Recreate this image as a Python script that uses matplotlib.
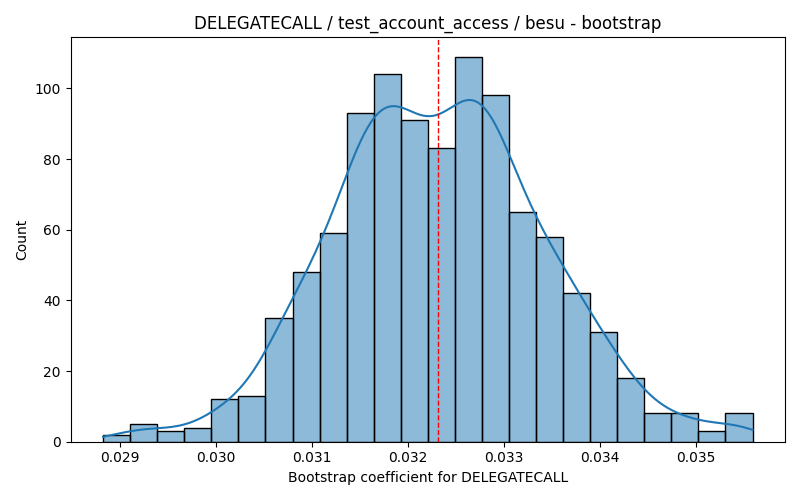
#!/usr/bin/env python3
"""Bootstrap histogram with KDE for DELEGATECALL coefficient."""

import numpy as np
import matplotlib
matplotlib.use("Agg")
import matplotlib.pyplot as plt

# bin edges (24 equal bins)
bin_lo = 0.028821
bin_hi = 0.035586
counts = [2, 5, 3, 4, 12, 13, 35, 48, 59, 93, 104, 91,
          83, 109, 98, 65, 58, 42, 31, 18, 8, 8, 3, 8]
point_estimate = 0.03231

title = "DELEGATECALL / test_account_access / besu - bootstrap"
xlabel = "Bootstrap coefficient for DELEGATECALL"


def weighted_kde(centers, weights, grid):
    w = weights / weights.sum()
    mean = np.sum(w * centers)
    std = np.sqrt(np.sum(w * (centers - mean) ** 2))
    bw = std * weights.sum() ** (-1 / 5)  # scott on the sample size
    z = (grid[:, None] - centers[None, :]) / bw
    return (np.exp(-0.5 * z ** 2) * w[None, :]).sum(axis=1) / (bw * np.sqrt(2 * np.pi))


def main():
    counts_arr = np.array(counts, dtype=float)
    edges = np.linspace(bin_lo, bin_hi, len(counts) + 1)
    centers = (edges[:-1] + edges[1:]) / 2
    width = edges[1] - edges[0]

    fig, ax = plt.subplots(figsize=(8, 5), dpi=100)
    ax.bar(edges[:-1], counts_arr, width=width, align="edge",
           facecolor=(*matplotlib.colors.to_rgb("C0"), 0.5),
           edgecolor="black", linewidth=1.0)

    grid = np.linspace(edges[0], edges[-1], 200)
    dens = weighted_kde(centers, counts_arr, grid)
    ax.plot(grid, dens * counts_arr.sum() * width, color="C0", linewidth=1.5)

    ax.axvline(point_estimate, color="red", linestyle="--", linewidth=1)

    ax.set_title(title)
    ax.set_xlabel(xlabel)
    ax.set_ylabel("Count")

    fig.tight_layout()
    fig.savefig("out.png", dpi=100)
    plt.close(fig)


if __name__ == "__main__":
    main()
